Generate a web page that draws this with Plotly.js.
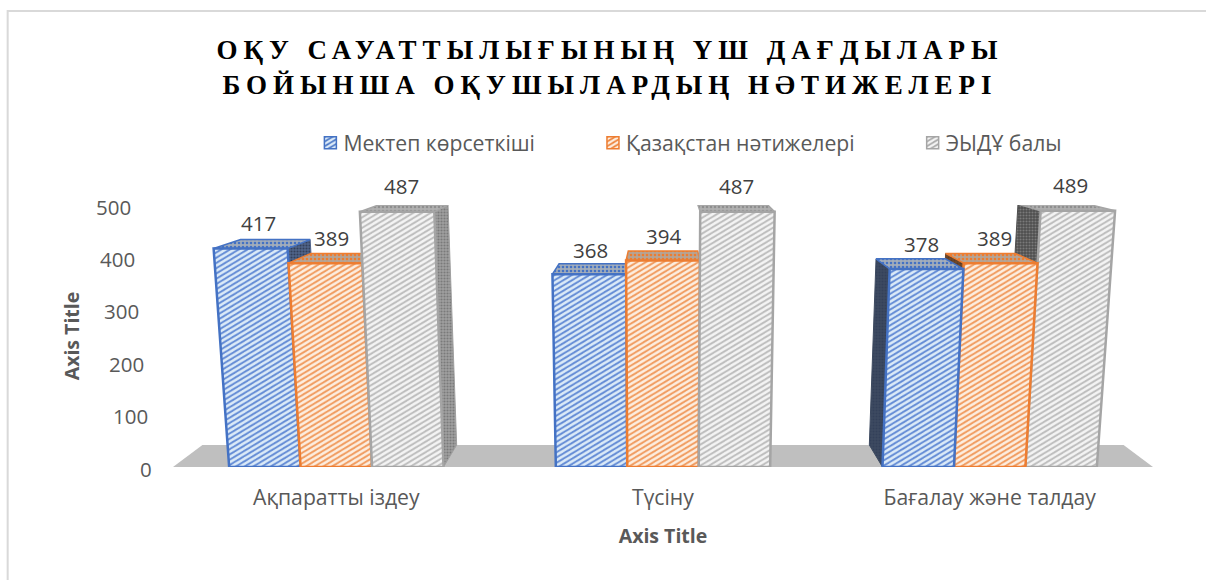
<!DOCTYPE html>
<html><head><meta charset="utf-8">
<script src="https://cdn.plot.ly/plotly-3.0.1.min.js"></script>
<style>
html,body{margin:0;padding:0;background:#fff}
.gtitle{letter-spacing:6px}
.legendtext{transform:translateX(-30px)}
</style></head><body>
<div id="chart" style="width:1206px;height:580px"></div>
<script>
const categories = ['Ақпаратты іздеу', 'Түсіну', 'Бағалау және талдау'];
const seriesNames = ['Мектеп көрсеткіші', 'Қазақстан нәтижелері', 'ЭЫДҰ балы'];
const mektep = [417, 368, 378];
const kazakhstan = [389, 394, 389];
const oecd = [487, 487, 489];
const yTicks = [0, 100, 200, 300, 400, 500];
const titleText = 'ОҚУ САУАТТЫЛЫҒЫНЫҢ ҮШ ДАҒДЫЛАРЫ<br>БОЙЫНША ОҚУШЫЛАРДЫҢ НӘТИЖЕЛЕРІ';

const lineColors = ['#4472C4', '#ED7D31', '#A5A5A5'];
const stripeColors = ['#5f88d4', '#f0985a', '#bbbbbb'];
const stripeBacks = ['#dcebf8', '#fdeee0', '#f4f4f4'];
const topBacks = ['#a3adba', '#b5a496', '#b0b0b0'];
const topDots = ['#4472C4', '#ED7D31', '#8f8f8f'];
const sideRight = ['#50648a', '#a3683c', '#a0a0a0'];
const sideLeft = ['#3d4a60', '#70492c', '#4f4f4f'];
const sideDots = ['#33405a', '#5a3a22', '#7a7a7a'];

const values = [mektep, kazakhstan, oecd];
const barW = 0.2187, skew = 8.6e-5, depth = 0.94, vanishX = 1, vanishY = 700;
const textFamily = 'Open Sans', digitSize = 20.5, textSize = 21.2, titleSize = 19.5;

function frontX(u, v) { return u + (u - vanishX) * skew * v; }
function pt(u, v, d) {
  const x = frontX(u, v);
  const s = 1 - (1 - depth) * d;
  return [vanishX + (x - vanishX) * s, vanishY + (v - vanishY) * s];
}
function poly(points, color, pattern, width, name) {
  return {type: 'scatter', mode: 'lines', x: points.map(p => p[0]), y: points.map(p => p[1]),
    fill: 'toself', fillcolor: pattern.bgcolor || color, fillpattern: pattern,
    line: {color: color, width: width}, showlegend: false, hoverinfo: 'skip', name: name};
}

const traces = [];
// Legend swatches: real bars parked outside the visible x range
seriesNames.forEach((n, j) => traces.push({type: 'bar', name: n, x: [11, 12, 13], y: values[j],
  marker: {color: stripeBacks[j], line: {color: lineColors[j], width: 1.5},
    pattern: {shape: '/', size: 4, solidity: 0.4, fgcolor: lineColors[j], bgcolor: stripeBacks[j]}},
  hoverinfo: 'skip'}));

// Floor
const fl = [pt(-0.5, 0, 0), pt(-0.5, 0, 1), pt(2.5, 0, 1), pt(2.5, 0, 0), pt(-0.5, 0, 0)];
traces.push({type: 'scatter', mode: 'lines', x: fl.map(p => p[0]), y: fl.map(p => p[1]), fill: 'toself',
  fillcolor: '#bfbfbf', line: {color: '#bfbfbf', width: 0}, showlegend: false, hoverinfo: 'skip'});

categories.forEach((c, i) => {
  const order = i === 2 ? [2, 1, 0] : [0, 1, 2];
  order.forEach(j => {
    const v = values[j][i];
    const l = i + (j - 1.5) * barW, r = l + barW;
    const sideU = i === 0 ? r : i === 2 ? l : null;
    if (sideU !== null) {
      const back = i === 2 ? sideLeft[j] : sideRight[j];
      const s = [pt(sideU, 0, 0), pt(sideU, v, 0), pt(sideU, v, 1), pt(sideU, 0, 1), pt(sideU, 0, 0)];
      traces.push(poly(s, back, {shape: '.', size: 3, solidity: 0.4, fgcolor: sideDots[j], bgcolor: back}, 1, c));
    }
    const t = [pt(l, v, 0), pt(r, v, 0), pt(r, v, 1), pt(l, v, 1), pt(l, v, 0)];
    traces.push(poly(t, lineColors[j], {shape: '.', size: 4, solidity: 0.35, fgcolor: topDots[j], bgcolor: topBacks[j]}, 1.5, c));
    const f = [pt(l, 0, 0), pt(l, v, 0), pt(r, v, 0), pt(r, 0, 0), pt(l, 0, 0)];
    traces.push(poly(f, lineColors[j], {shape: '/', size: 4.5, solidity: 0.4, fgcolor: stripeColors[j], bgcolor: stripeBacks[j]}, 2.5, c));
  });
});

// y tick labels follow the perspective slant of the wall
const tickU = -0.557;
const annotations = yTicks.map(v => ({xref: 'paper', yref: 'y', x: (frontX(tickU, v) + 0.5) / 3, y: v, yshift: -1.5, text: String(v),
  showarrow: false, xanchor: 'right', yanchor: 'middle',
  font: {family: textFamily, size: digitSize, color: '#595959'}}));

// Data labels
values.forEach((vals, j) => vals.forEach((v, i) => {
  const px = pt(i + (j - 1) * barW, v, 0.3)[0];
  const py = pt(i + (j - 1) * barW, v, 0.5)[1];
  annotations.push({xref: 'x', yref: 'y', x: px, y: py, yshift: 20 + (v - 390) * 0.025, text: String(v), showarrow: false,
    xanchor: 'center', yanchor: 'middle', font: {family: textFamily, size: digitSize, color: '#404040'}});
}));

const layout = {
  width: 1206, height: 580, paper_bgcolor: '#fff', plot_bgcolor: 'rgba(0,0,0,0)', showlegend: true,
  margin: {l: 172.5, r: 52.5, t: 205, b: 113, autoexpand: false},
  title: {text: titleText, x: 610 / 1206, xanchor: 'center', y: 0.898, yanchor: 'middle',
    font: {family: 'Liberation Serif', size: 27, weight: 700, color: '#000'}},
  xaxis: {range: [-0.5, 2.5], tickvals: [0, 1, 2], ticktext: categories, showgrid: false, zeroline: false,
    showline: false, ticks: 'outside', ticklen: 12, tickcolor: 'rgba(0,0,0,0)',
    tickfont: {family: textFamily, size: textSize, color: '#595959'},
    title: {text: 'Axis Title', standoff: 18, font: {family: textFamily, size: titleSize, weight: 700, color: '#595959'}}},
  yaxis: {range: [0, 500], tickvals: yTicks, showticklabels: false, showgrid: false, zeroline: false,
    showline: false, ticks: '',
    title: {text: 'Axis Title', standoff: 87, font: {family: textFamily, size: titleSize, weight: 700, color: '#595959'}}},
  legend: {orientation: 'h', x: (287 - 172.5) / 981, xanchor: 'left', y: (467 - 143) / 262, yanchor: 'middle',
    itemwidth: 76, font: {family: textFamily, size: textSize, color: '#595959'}, bgcolor: 'rgba(0,0,0,0)', traceorder: 'normal'},
  shapes: [{type: 'rect', xref: 'paper', yref: 'paper', layer: 'below',
    x0: (7 - 172.5) / 981, x1: (1230 - 172.5) / 981, y0: (467 - 600) / 262, y1: (467 - 11) / 262,
    line: {color: '#d9d9d9', width: 2}, fillcolor: 'rgba(0,0,0,0)'}],
  annotations: annotations
};
Plotly.newPlot('chart', traces, layout, {displayModeBar: false, staticPlot: true}).then(() => {
  document.querySelectorAll('pattern').forEach(p => {
    if (p.querySelector('path')) p.setAttribute('patternTransform', 'rotate(14)');
  });
});
</script></body></html>
